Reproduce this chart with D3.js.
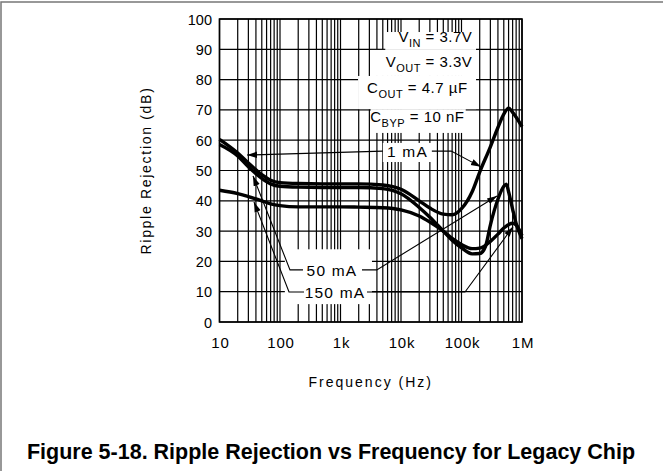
<!DOCTYPE html>
<html>
<head>
<meta charset="utf-8">
<script src="https://cdn.jsdelivr.net/npm/d3@7"></script>
<style>
  body { margin: 0; background: #fff; }
  svg { display: block; }
</style>
</head>
<body>
<div id="chart"></div>
<script>
const width = 663;
const height = 471;

// ripple rejection curves (Hz, dB)
const freq1mA = [10, 20, 30, 50, 70, 100, 200, 500, 1e3, 2e3, 5e3, 1e4, 2e4, 3e4, 5e4, 7e4, 1e5, 1.5e5, 2e5, 3e5, 4e5, 5e5, 6e5, 7e5, 1e6];
const rr1mA   = [60.3, 55.8, 52.5, 48.6, 46.8, 46.0, 45.7, 45.6, 45.6, 45.6, 45.2, 43.8, 40.0, 37.6, 35.6, 35.4, 37.4, 43.0, 49.5, 57.8, 64.2, 68.6, 70.6, 69.2, 64.5];

const freq50mA = [10, 20, 30, 50, 70, 100, 200, 500, 1e3, 2e3, 5e3, 1e4, 2e4, 3e4, 5e4, 7e4, 1e5, 1.5e5, 2e5, 2.5e5, 3e5, 4e5, 5e5, 5.5e5, 6e5, 7e5, 8e5, 1e6];
const rr50mA   = [58.6, 54.8, 51.2, 47.4, 45.6, 44.8, 44.5, 44.4, 44.4, 44.4, 44.0, 42.3, 37.8, 34.6, 30.0, 27.0, 24.5, 22.5, 22.6, 25.0, 32.0, 40.5, 44.8, 45.5, 43.0, 37.2, 32.5, 27.5];

const freq150mA = [10, 20, 30, 50, 70, 100, 200, 500, 1e3, 2e3, 5e3, 1e4, 2e4, 3e4, 5e4, 7e4, 1e5, 1.5e5, 2e5, 3e5, 4e5, 5e5, 7e5, 8e5, 1e6];
const rr150mA   = [43.5, 42.4, 41.4, 40.0, 39.0, 38.4, 38.0, 38.0, 38.0, 37.9, 37.7, 37.0, 35.0, 33.0, 30.0, 27.6, 25.6, 24.2, 24.4, 26.6, 29.0, 31.0, 32.6, 32.0, 28.5];

const xTickValues = [10, 100, 1e3, 1e4, 1e5, 1e6];
const xTickLabels = ["10", "100", "1k", "10k", "100k", "1M"];
const yTickValues = [0, 10, 20, 30, 40, 50, 60, 70, 80, 90, 100];

const conditions = [
  { main: "V", sub: "IN",  rest: " = 3.7V",   at: [5.18, 92.4] },
  { main: "V", sub: "OUT", rest: " = 3.3V",   at: [5.18, 84.1] },
  { main: "C", sub: "OUT", rest: " = 4.7 \u00b5F", at: [5.10, 75.5] },
  { main: "C", sub: "BYP", rest: " = 10 nF",  at: [5.05, 66.0] }
];

const svg = d3.select("#chart")
    .append("svg")
    .attr("width", width)
    .attr("height", height);

// page frame
svg.append("rect")
    .attr("x", 1).attr("y", 2)
    .attr("width", 720).attr("height", 520)
    .attr("fill", "none")
    .attr("stroke", "#777")
    .attr("stroke-width", 1.5);

const x = d3.scaleLog().domain([10, 1e6]).range([219.5, 522]);
const y = d3.scaleLinear().domain([0, 100]).range([322, 19]);
const X = dec => x(Math.pow(10, dec));   // position from a decade value

const sans = "'Liberation Sans', Arial, sans-serif";

// grid
const grid = svg.append("g").attr("stroke", "#000").attr("stroke-width", 1.2);
grid.selectAll(".vg")
    .data(x.ticks())
    .join("line")
    .attr("x1", d => x(d)).attr("x2", d => x(d))
    .attr("y1", y(0)).attr("y2", y(100));
grid.selectAll(".hg")
    .data(yTickValues)
    .join("line")
    .attr("x1", x(10)).attr("x2", x(1e6))
    .attr("y1", d => y(d)).attr("y2", d => y(d));

// white masks behind the annotations, in data units [dec0, dec1, dB0, dB1]
const masks = [
  [3.74, 5.24, 95.7, 89.8],
  [3.49, 5.24, 89.8, 81.2],
  [3.29, 5.24, 81.2, 70.25],
  [3.50, 5.07, 70.25, 62.4],
  [3.70, 4.51, 59.1, 52.8],
  [2.08, 3.52, 24.0, 5.9]
];
svg.append("g").selectAll("rect")
    .data(masks)
    .join("rect")
    .attr("x", d => X(d[0]))
    .attr("y", d => y(d[2]))
    .attr("width", d => X(d[1]) - X(d[0]))
    .attr("height", d => y(d[3]) - y(d[2]))
    .attr("fill", "#fff");

// frame of plot
svg.append("rect")
    .attr("x", x(10)).attr("y", y(100))
    .attr("width", x(1e6) - x(10))
    .attr("height", y(0) - y(100))
    .attr("fill", "none")
    .attr("stroke", "#000")
    .attr("stroke-width", 1.6);

// curves
const line = d3.line()
    .x(d => x(d[0]))
    .y(d => y(d[1]))
    .curve(d3.curveMonotoneX);

const series = [
  d3.zip(freq1mA, rr1mA),
  d3.zip(freq50mA, rr50mA),
  d3.zip(freq150mA, rr150mA)
];
svg.append("g").selectAll("path")
    .data(series)
    .join("path")
    .attr("d", line)
    .attr("fill", "none")
    .attr("stroke", "#000")
    .attr("stroke-width", 3.4)
    .attr("stroke-linejoin", "round");

// tick labels
svg.append("g").selectAll("text")
    .data(yTickValues)
    .join("text")
    .attr("x", 212)
    .attr("y", d => y(d) + 5.5)
    .attr("text-anchor", "end")
    .style("font-family", sans)
    .style("font-size", "14.5px")
    .text(d => d);

svg.append("g").selectAll("text")
    .data(xTickValues)
    .join("text")
    .attr("x", d => x(d) + 1)
    .attr("y", 348)
    .attr("text-anchor", "middle")
    .style("font-family", sans)
    .style("font-size", "15px")
    .style("letter-spacing", "0.8px")
    .text((d, i) => xTickLabels[i]);

// axis titles
svg.append("text")
    .attr("x", (x(10) + x(1e6)) / 2)
    .attr("y", 387)
    .attr("text-anchor", "middle")
    .style("font-family", sans)
    .style("font-size", "14px")
    .style("letter-spacing", "2px")
    .text("Frequency (Hz)");

svg.append("text")
    .attr("transform", `translate(151,${(y(0) + y(100)) / 2}) rotate(-90)`)
    .attr("text-anchor", "middle")
    .style("font-family", sans)
    .style("font-size", "14px")
    .style("letter-spacing", "1.7px")
    .text("Ripple Rejection (dB)");

// operating conditions
const cond = svg.append("g").selectAll("text")
    .data(conditions)
    .join("text")
    .attr("x", d => X(d.at[0]))
    .attr("y", d => y(d.at[1]))
    .attr("text-anchor", "end")
    .style("font-family", sans)
    .style("font-size", "15px")
    .style("letter-spacing", "0.5px");
cond.append("tspan").text(d => d.main);
cond.append("tspan")
    .attr("dy", 5)
    .style("font-size", "11px")
    .text(d => d.sub);
cond.append("tspan")
    .attr("dy", -5)
    .text(d => d.rest);

// arrow heads
svg.append("defs").append("marker")
    .attr("id", "arrow")
    .attr("viewBox", "0 0 10 10")
    .attr("refX", 10).attr("refY", 5)
    .attr("markerWidth", 10).attr("markerHeight", 10)
    .attr("markerUnits", "userSpaceOnUse")
    .attr("orient", "auto")
    .append("path")
    .attr("d", "M0,1.8 L10,5 L0,8.2 Z")
    .attr("fill", "#000");

// current labels with leaders, points in [decade, dB]
const labels = [
  { text: "1 mA", at: [4.107, 54.5], leaders: [
      [[3.70, 56.4], [1.455, 55.1]],
      [[4.51, 56.4], [4.83, 56.4], [5.32, 51.2]] ] },
  { text: "50 mA", at: [2.86, 15.2], leaders: [
      [[2.38, 17.2], [2.165, 17.2], [1.554, 48.2]],
      [[3.355, 17.2], [3.60, 17.2], [5.587, 41.6]] ] },
  { text: "150 mA", at: [2.909, 7.9], leaders: [
      [[2.397, 9.9], [2.149, 9.9], [1.570, 39.6]],
      [[3.438, 9.9], [5.058, 9.9], [5.851, 31.4]] ] }
];

const lbl = svg.append("g");
labels.forEach(l => {
  l.leaders.forEach(pts => {
    lbl.append("path")
        .attr("d", d3.line().x(p => X(p[0])).y(p => y(p[1]))(pts))
        .attr("fill", "none")
        .attr("stroke", "#000")
        .attr("stroke-width", 1.1)
        .attr("marker-end", "url(#arrow)");
  });
  lbl.append("text")
      .attr("x", X(l.at[0]))
      .attr("y", y(l.at[1]))
      .attr("text-anchor", "middle")
      .style("font-family", sans)
      .style("font-size", "15.5px")
      .style("letter-spacing", "1.2px")
      .text(l.text);
});

// caption
svg.append("text")
    .attr("x", 331)
    .attr("y", 459)
    .attr("text-anchor", "middle")
    .style("font-family", sans)
    .style("font-weight", "bold")
    .style("font-size", "21.5px")
    .text("Figure 5-18. Ripple Rejection vs Frequency for Legacy Chip");
</script>
</body>
</html>
